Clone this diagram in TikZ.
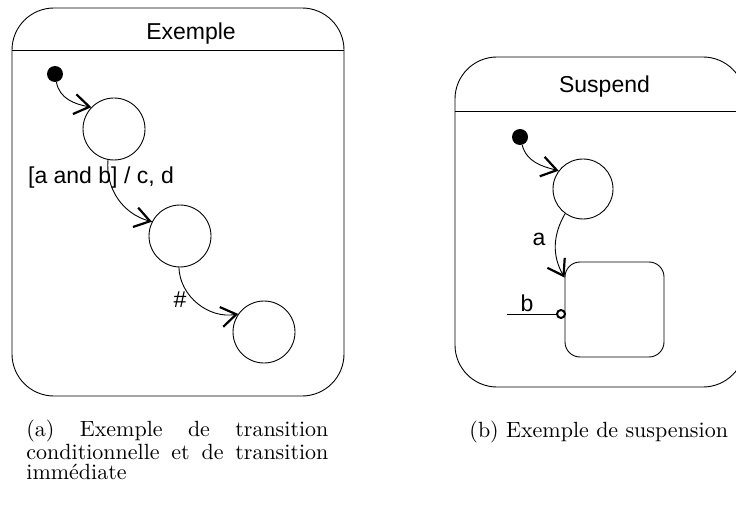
\documentclass[tikz,border=0pt]{standalone}
\usepackage{fontspec}
\usetikzlibrary{arrows.meta}
\newfontfamily\diagfont{Liberation Sans}
\begin{document}
\begin{tikzpicture}[x=1pt,y=1pt,
  lbl/.style={font=\diagfont\fontsize{23}{27}\selectfont, inner sep=0pt, anchor=base},
  captext/.style={font=\fontsize{10}{9.1}\selectfont, inner sep=0pt, scale=2.2},
  st/.style={circle, draw, line width=0.9pt, minimum size=62pt, inner sep=0pt},
  initdot/.style={circle, fill=black, minimum size=16pt, inner sep=0pt},
  compbox/.style={draw, line width=0.9pt, rounded corners=42pt, inner sep=0pt},
  tr/.style={line width=0.9pt, -{Straight Barb[length=15pt,width=20pt,line width=2.2pt]}},
  thinline/.style={line width=0.9pt}]
\useasboundingbox (0,0) rectangle (736,-513);
\clip (0,0) rectangle (736,-513);

% ---------- left composite state ----------
\node[compbox, minimum width=332pt, minimum height=388pt] (boxA) at (178,-202) {};
\coordinate (hA) at (0,-50);
\draw[thinline] (boxA.west |- hA) -- (boxA.east |- hA);
\node[lbl] (tA) at (191,-40) {Exemple};

\node[initdot] (d1) at (55,-74) {};
\node[st] (s1) at (114,-129) {};
\node[st] (s2) at (180,-236) {};
\node[st] (s3) at (264,-332) {};

\draw[tr] (d1) to[out=-80,in=170] (s1.136);
\draw[tr] (s1.259) to[out=-95,in=165] (s2.153);
\draw[tr] (s2.268) to[out=-88,in=190] (s3.145);

\node[lbl] (l1) at (101,-184) {[a and b] / c, d};
\node[lbl] (l2) at (180,-307) {\#};

% ---------- right composite state ----------
\node[compbox, minimum width=290pt, minimum height=330pt] (boxB) at (600,-222) {};
\coordinate (hB) at (0,-111);
\draw[thinline] (boxB.west |- hB) -- (boxB.east |- hB);
\node[lbl] (tB) at (604.5,-93) {Suspend};

\node[initdot] (d2) at (520,-137) {};
\node[st, minimum size=60pt] (u1) at (583,-189) {};
\node[draw, line width=0.9pt, rounded corners=15pt, minimum width=99pt, minimum height=95pt, inner sep=0pt] (r) at (614.5,-309.5) {};

\draw[tr] (d2) to[out=-75,in=166] (u1.143);
\draw[tr] (u1.234) to[out=240,in=120] ([yshift=-16pt]r.north west);
\node[lbl] (la) at (539,-245) {a};

\coordinate (bs) at (507,-314);
\node[circle, draw, line width=2pt, minimum size=8pt, inner sep=0pt] (bc) at (561,-314) {};
\draw[thinline] (bs) -- (bc);
\node[lbl] (lb) at (527,-311) {b};

% ---------- captions ----------
\node[captext, anchor=north west, text width=137.27pt, align=left] (capa) at (26,-420)
  {(a)\hfill Exemple\hfill de\hfill transition\\ conditionnelle\hfill et\hfill de\hfill transition\\ immédiate};
\node[captext, anchor=base west] (capb) at (469,-437) {(b) Exemple de suspension};
\end{tikzpicture}
\end{document}
